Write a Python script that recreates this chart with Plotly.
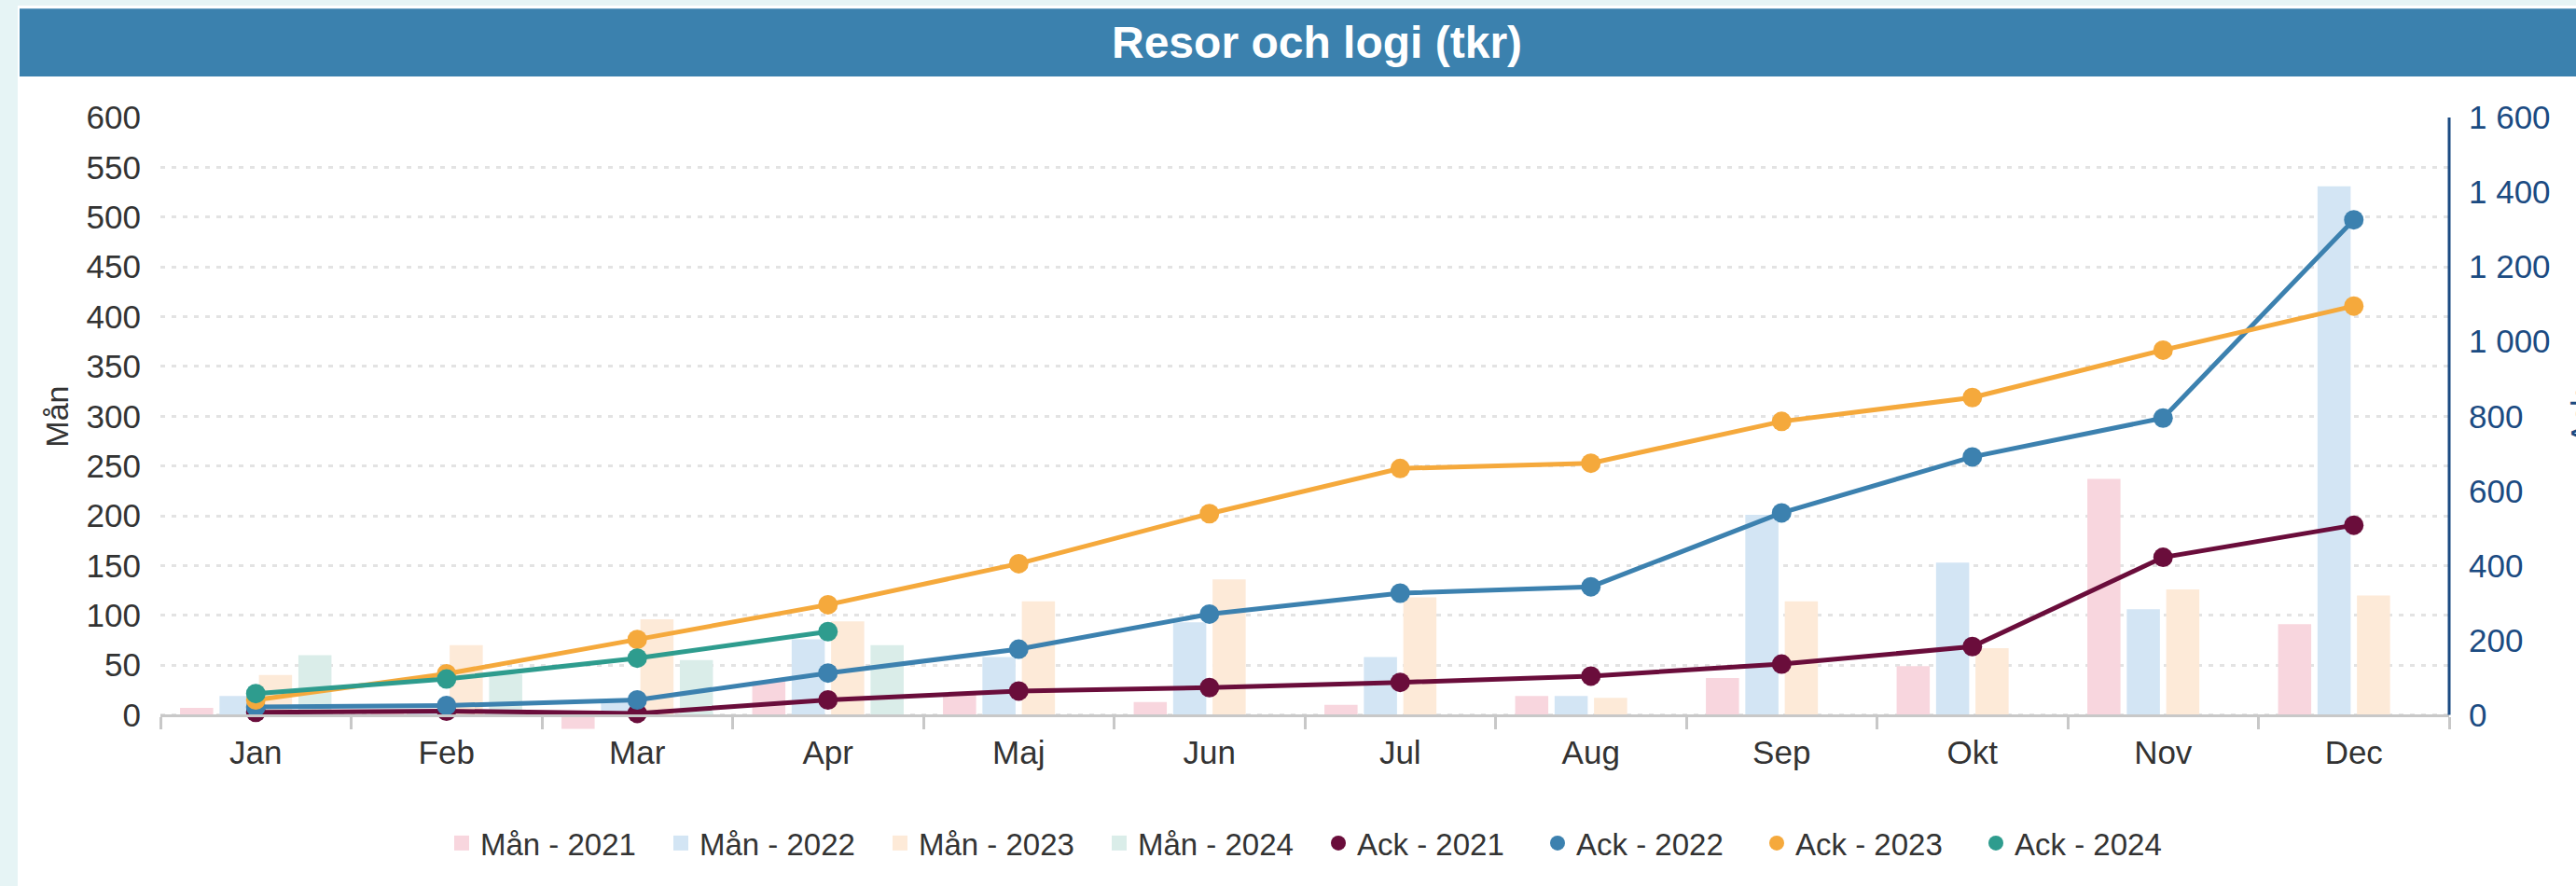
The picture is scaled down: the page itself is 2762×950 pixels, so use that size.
import plotly.graph_objects as go

# ---------------- data ----------------
months = ["Jan", "Feb", "Mar", "Apr", "Maj", "Jun", "Jul", "Aug", "Sep", "Okt", "Nov", "Dec"]

man_2021 = [7, 3, -14, 34, 22, 13, 10, 19, 37, 49, 237, 91]
man_2022 = [19, 5, 15, 76, 58, 93, 58, 19, 201, 153, 106, 531]
man_2023 = [40, 70, 96, 94, 114, 136, 118, 17, 114, 67, 126, 120]
man_2024 = [60, 41, 55, 70, None, None, None, None, None, None, None, None]

ack_2021 = [7, 10, 4, 40, 64, 73, 87, 104, 136, 183, 422, 508]
ack_2022 = [21, 25, 40, 112, 176, 270, 326, 343, 541, 691, 795, 1326]
ack_2023 = [40, 110, 202, 295, 405, 539, 660, 674, 786, 850, 977, 1095]
ack_2024 = [57, 96, 152, 223]

bar_names = ["Mån - 2021", "Mån - 2022", "Mån - 2023", "Mån - 2024"]
line_names = ["Ack - 2021", "Ack - 2022", "Ack - 2023", "Ack - 2024"]

left_ticks = [0, 50, 100, 150, 200, 250, 300, 350, 400, 450, 500, 550, 600]
right_ticks = [0, 200, 400, 600, 800, 1000, 1200, 1400, 1600]
right_ticktext = ["0", "200", "400", "600", "800", "1 000", "1 200", "1 400", "1 600"]

title_text = "Resor och logi (tkr)"
left_title = "Mån"
right_title = "Ack"

# ---------------- style ----------------
bar_colors = ["#F8D6DE", "#D3E5F4", "#FDEAD8", "#DAEDE9"]
line_colors = ["#6A0D3B", "#3C81AF", "#F5A93C", "#2E9C8E"]
FONT = "Liberation Sans, Arial, sans-serif"

W, H = 2762, 950
PL, PR, PT, PB = 172, 2626, 125.7, 790  # plot area in px


def px_x(px):
    return (px - PL) / (PR - PL)


def px_y(py):
    return (PB - py) / (PB - PT)


LEFT_MIN = -22
LEFT_MAX = 600
RIGHT_MAX = 1600
RIGHT_MIN = LEFT_MIN * RIGHT_MAX / LEFT_MAX
zero_frac = -LEFT_MIN / (LEFT_MAX - LEFT_MIN)

fig = go.Figure()

man_series = [man_2021, man_2022, man_2023, man_2024]
for name, vals, col in zip(bar_names, man_series, bar_colors):
    fig.add_trace(go.Bar(x=months, y=vals, name=name, marker=dict(color=col, line=dict(width=0)),
                         showlegend=False, yaxis="y"))

ack_series = [ack_2021, ack_2022, ack_2023, ack_2024]
for name, vals, col in zip(line_names, ack_series, line_colors):
    fig.add_trace(go.Scatter(x=months[:len(vals)], y=vals, name=name, mode="lines+markers",
                             line=dict(color=col, width=5), marker=dict(color=col, size=21),
                             showlegend=False, yaxis="y2"))

# legend entries (markers only, like the reference)
for name, col in zip(bar_names, bar_colors):
    fig.add_trace(go.Scatter(x=[months[0]], y=[None], name=name, mode="markers",
                             marker=dict(symbol="square", color=col, size=16), yaxis="y", hoverinfo="skip"))
for name, col in zip(line_names, line_colors):
    fig.add_trace(go.Scatter(x=[months[0]], y=[None], name=name, mode="markers",
                             marker=dict(symbol="circle", color=col, size=16), yaxis="y2", hoverinfo="skip"))

shapes = [
    # white panel
    dict(type="rect", xref="paper", yref="paper", x0=px_x(19), x1=px_x(W + 5), y0=px_y(H + 5), y1=px_y(5.7),
         fillcolor="white", line=dict(width=0), layer="below"),
    # title bar
    dict(type="rect", xref="paper", yref="paper", x0=px_x(21), x1=px_x(W + 5), y0=px_y(81.7), y1=px_y(9),
         fillcolor="#3B81AE", line=dict(width=0), layer="below"),
    # right axis line
    dict(type="line", xref="paper", yref="y2", x0=1, x1=1, y0=0, y1=RIGHT_MAX,
         line=dict(color="#1B4B82", width=3), layer="above"),
]

annotations = [
    dict(text=title_text, xref="paper", yref="paper", x=px_x(1412), y=px_y(45), showarrow=False,
         xanchor="center", yanchor="middle",
         font=dict(family=FONT, size=48, color="white", weight="bold")),
    dict(text=left_title, xref="paper", yref="paper", x=px_x(61), y=px_y(446.5), showarrow=False,
         textangle=-90, xanchor="center", yanchor="middle", font=dict(family=FONT, size=34, color="#333333")),
    dict(text=right_title, xref="paper", yref="paper", x=px_x(2768), y=px_y(446.5), showarrow=False,
         textangle=-90, xanchor="center", yanchor="middle", font=dict(family=FONT, size=34, color="#1B4B82")),
]

fig.update_layout(
    width=W, height=H,
    margin=dict(l=PL, r=W - PR, t=PT, b=H - PB, pad=0),
    paper_bgcolor="#E6F4F5",
    plot_bgcolor="rgba(0,0,0,0)",
    font=dict(family=FONT, size=35, color="#333333"),
    barmode="group",
    bargap=0.173,
    bargroupgap=0.16,
    shapes=shapes,
    annotations=annotations,
    xaxis=dict(
        type="category", categoryorder="array", categoryarray=months,
        range=[-0.5, len(months) - 0.5], autorange=False,
        anchor="free", position=zero_frac,
        showline=True, linecolor="#C8C8C8", linewidth=3,
        ticks="outside", tickson="boundaries", ticklen=13, tickwidth=3, tickcolor="#C8C8C8",
        ticklabelstandoff=8,
        tickfont=dict(family=FONT, size=35, color="#333333"),
        showgrid=False, zeroline=False,
    ),
    yaxis=dict(
        range=[LEFT_MIN, LEFT_MAX], tickmode="array", tickvals=left_ticks,
        showgrid=True, gridcolor="#E3E3E3", gridwidth=3, griddash="5px,7px",
        zeroline=False, showline=False, ticks="",
        ticklabelstandoff=20,
        tickfont=dict(family=FONT, size=35, color="#333333"),
    ),
    yaxis2=dict(
        overlaying="y", side="right", range=[RIGHT_MIN, RIGHT_MAX],
        tickmode="array", tickvals=right_ticks, ticktext=right_ticktext,
        showgrid=False, zeroline=False, showline=False, ticks="",
        ticklabelstandoff=20,
        tickfont=dict(family=FONT, size=35, color="#1B4B82"),
    ),
    legend=dict(
        orientation="h", xanchor="center", yanchor="middle",
        x=px_x(1415), y=px_y(904),
        font=dict(family=FONT, size=33, color="#333333"),
        bgcolor="rgba(0,0,0,0)", itemwidth=30, traceorder="normal",
        entrywidth=190, entrywidthmode="pixels",
    ),
    hovermode=False,
)

fig.write_html("out.html", config={"displayModeBar": False},
               post_script="document.body.style.margin='0';document.body.style.overflow='hidden';")
